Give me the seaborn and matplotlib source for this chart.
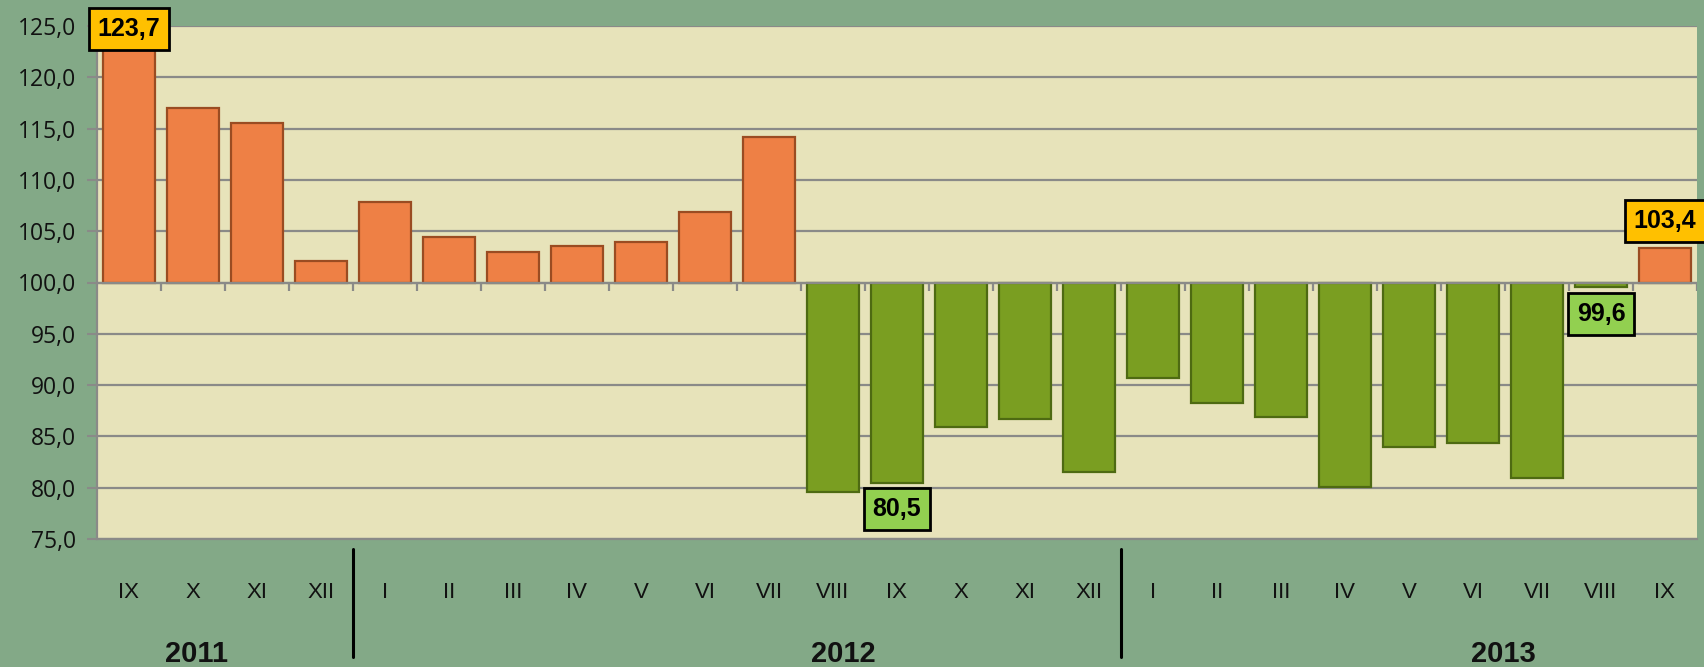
import pandas as pd
import seaborn as sns
import matplotlib.pyplot as plt
import matplotlib.transforms as mtransforms

# month / year / index values (previous year = 100)
months = ["IX", "X", "XI", "XII",
          "I", "II", "III", "IV", "V", "VI", "VII", "VIII", "IX", "X", "XI", "XII",
          "I", "II", "III", "IV", "V", "VI", "VII", "VIII", "IX"]
years = [2011] * 4 + [2012] * 12 + [2013] * 9
values = [123.7, 117.0, 115.5, 102.1,
          107.8, 104.4, 103.0, 103.6, 103.9, 106.9, 114.2, 79.6, 80.5, 85.9, 86.7, 81.5,
          90.7, 88.3, 86.9, 80.1, 84.0, 84.4, 80.9, 99.6, 103.4]
year_labels = ["2011", "2012", "2013"]
year_label_pos = [1.06, 11.16, 21.47]
# labelled points: index, text y position
callouts = {0: 124.7, 12: 77.9, 23: 96.95, 24: 106.0}

BASE = 100
ORANGE = "#ee8045"
GREEN = "#7a9e21"
BG = "#83a987"
PLOT_BG = "#e7e3ba"
GRID = "#8a8a88"

df = pd.DataFrame({"month": months, "year": years, "value": values})
df["period"] = df["month"] + " " + df["year"].astype(str)
df["delta"] = df["value"] - BASE
df["dir"] = ["up" if v >= BASE else "down" for v in df["value"]]

sns.set_style("white")
plt.rcParams["font.family"] = ["Liberation Sans", "DejaVu Sans"]

fig = plt.figure(figsize=(17.04, 6.67), dpi=100, facecolor=BG)
ax = fig.add_axes([97 / 1704, 1 - 539 / 667, 1600 / 1704, 513 / 667])
ax.set_facecolor(PLOT_BG)

sns.barplot(data=df, x="period", y="delta", hue="dir", order=list(df["period"]),
            palette={"up": ORANGE, "down": GREEN}, dodge=False, legend=False,
            width=0.8, bottom=BASE, ax=ax, zorder=3, linewidth=1.6,
            saturation=1)
# darker outline, picked by bar direction
for p in ax.patches:
    p.set_edgecolor("#9a4c22" if p.get_height() >= 0 else "#4e6a12")

n = len(df)
ax.set_xlim(-0.5, n - 0.5)
ax.set_ylim(75, 125)
yt = list(range(75, 126, 5))
ax.set_yticks(yt)
ax.set_yticklabels([f"{v:.1f}".replace(".", ",") for v in yt],
                   fontsize=16.5, family=["Open Sans", "DejaVu Sans"], color="#111111")
ax.tick_params(axis="y", length=7, width=1.5, color=GRID, pad=8, left=True)
ax.yaxis.grid(True, color=GRID, lw=1.6, zorder=1)
ax.set_axisbelow(True)

ax.set_xticks(range(n))
ax.set_xticklabels(df["month"], fontsize=16,
                   family=["Liberation Sans Narrow", "Liberation Sans"], color="#111111")
ax.tick_params(axis="x", length=0, pad=31)
ax.set_xlabel("")
ax.set_ylabel("")

for s in ["top", "right"]:
    ax.spines[s].set_visible(False)
ax.spines["left"].set_color(GRID)
ax.spines["left"].set_linewidth(1.6)
ax.spines["bottom"].set_color(GRID)
ax.spines["bottom"].set_linewidth(1.6)

# category axis crossing at 100
ax.axhline(BASE, color=GRID, lw=1.6, zorder=4)
ax.vlines([i + 0.5 for i in range(n)], BASE - 0.8, BASE, color=GRID, lw=1.6, zorder=4)

# callout labels
for i, ty in callouts.items():
    v = df["value"][i]
    fc = "#ffc000" if v >= BASE else "#92d050"
    ax.text(i, ty, f"{v:.1f}".replace(".", ","), ha="center", va="center",
            fontsize=18, fontweight="bold", color="black", zorder=6, clip_on=False,
            bbox=dict(boxstyle="square,pad=0.35", fc=fc, ec="black", lw=2))

# year labels and separators below the axis
tr = mtransforms.blended_transform_factory(ax.transData, fig.transFigure)
for x, lab in zip(year_label_pos, year_labels):
    ax.text(x, 1 - 654 / 667, lab, transform=tr, ha="center", va="center",
            fontsize=21, fontweight="bold", color="#111111")
bounds = [i - 0.5 for i in range(1, n) if df["year"][i] != df["year"][i - 1]]
for b in bounds:
    ax.plot([b, b], [1 - 549 / 667, 1 - 657 / 667], transform=tr, color="black",
            lw=2.2, clip_on=False)

fig.savefig("out.png", dpi=100, facecolor=BG)
